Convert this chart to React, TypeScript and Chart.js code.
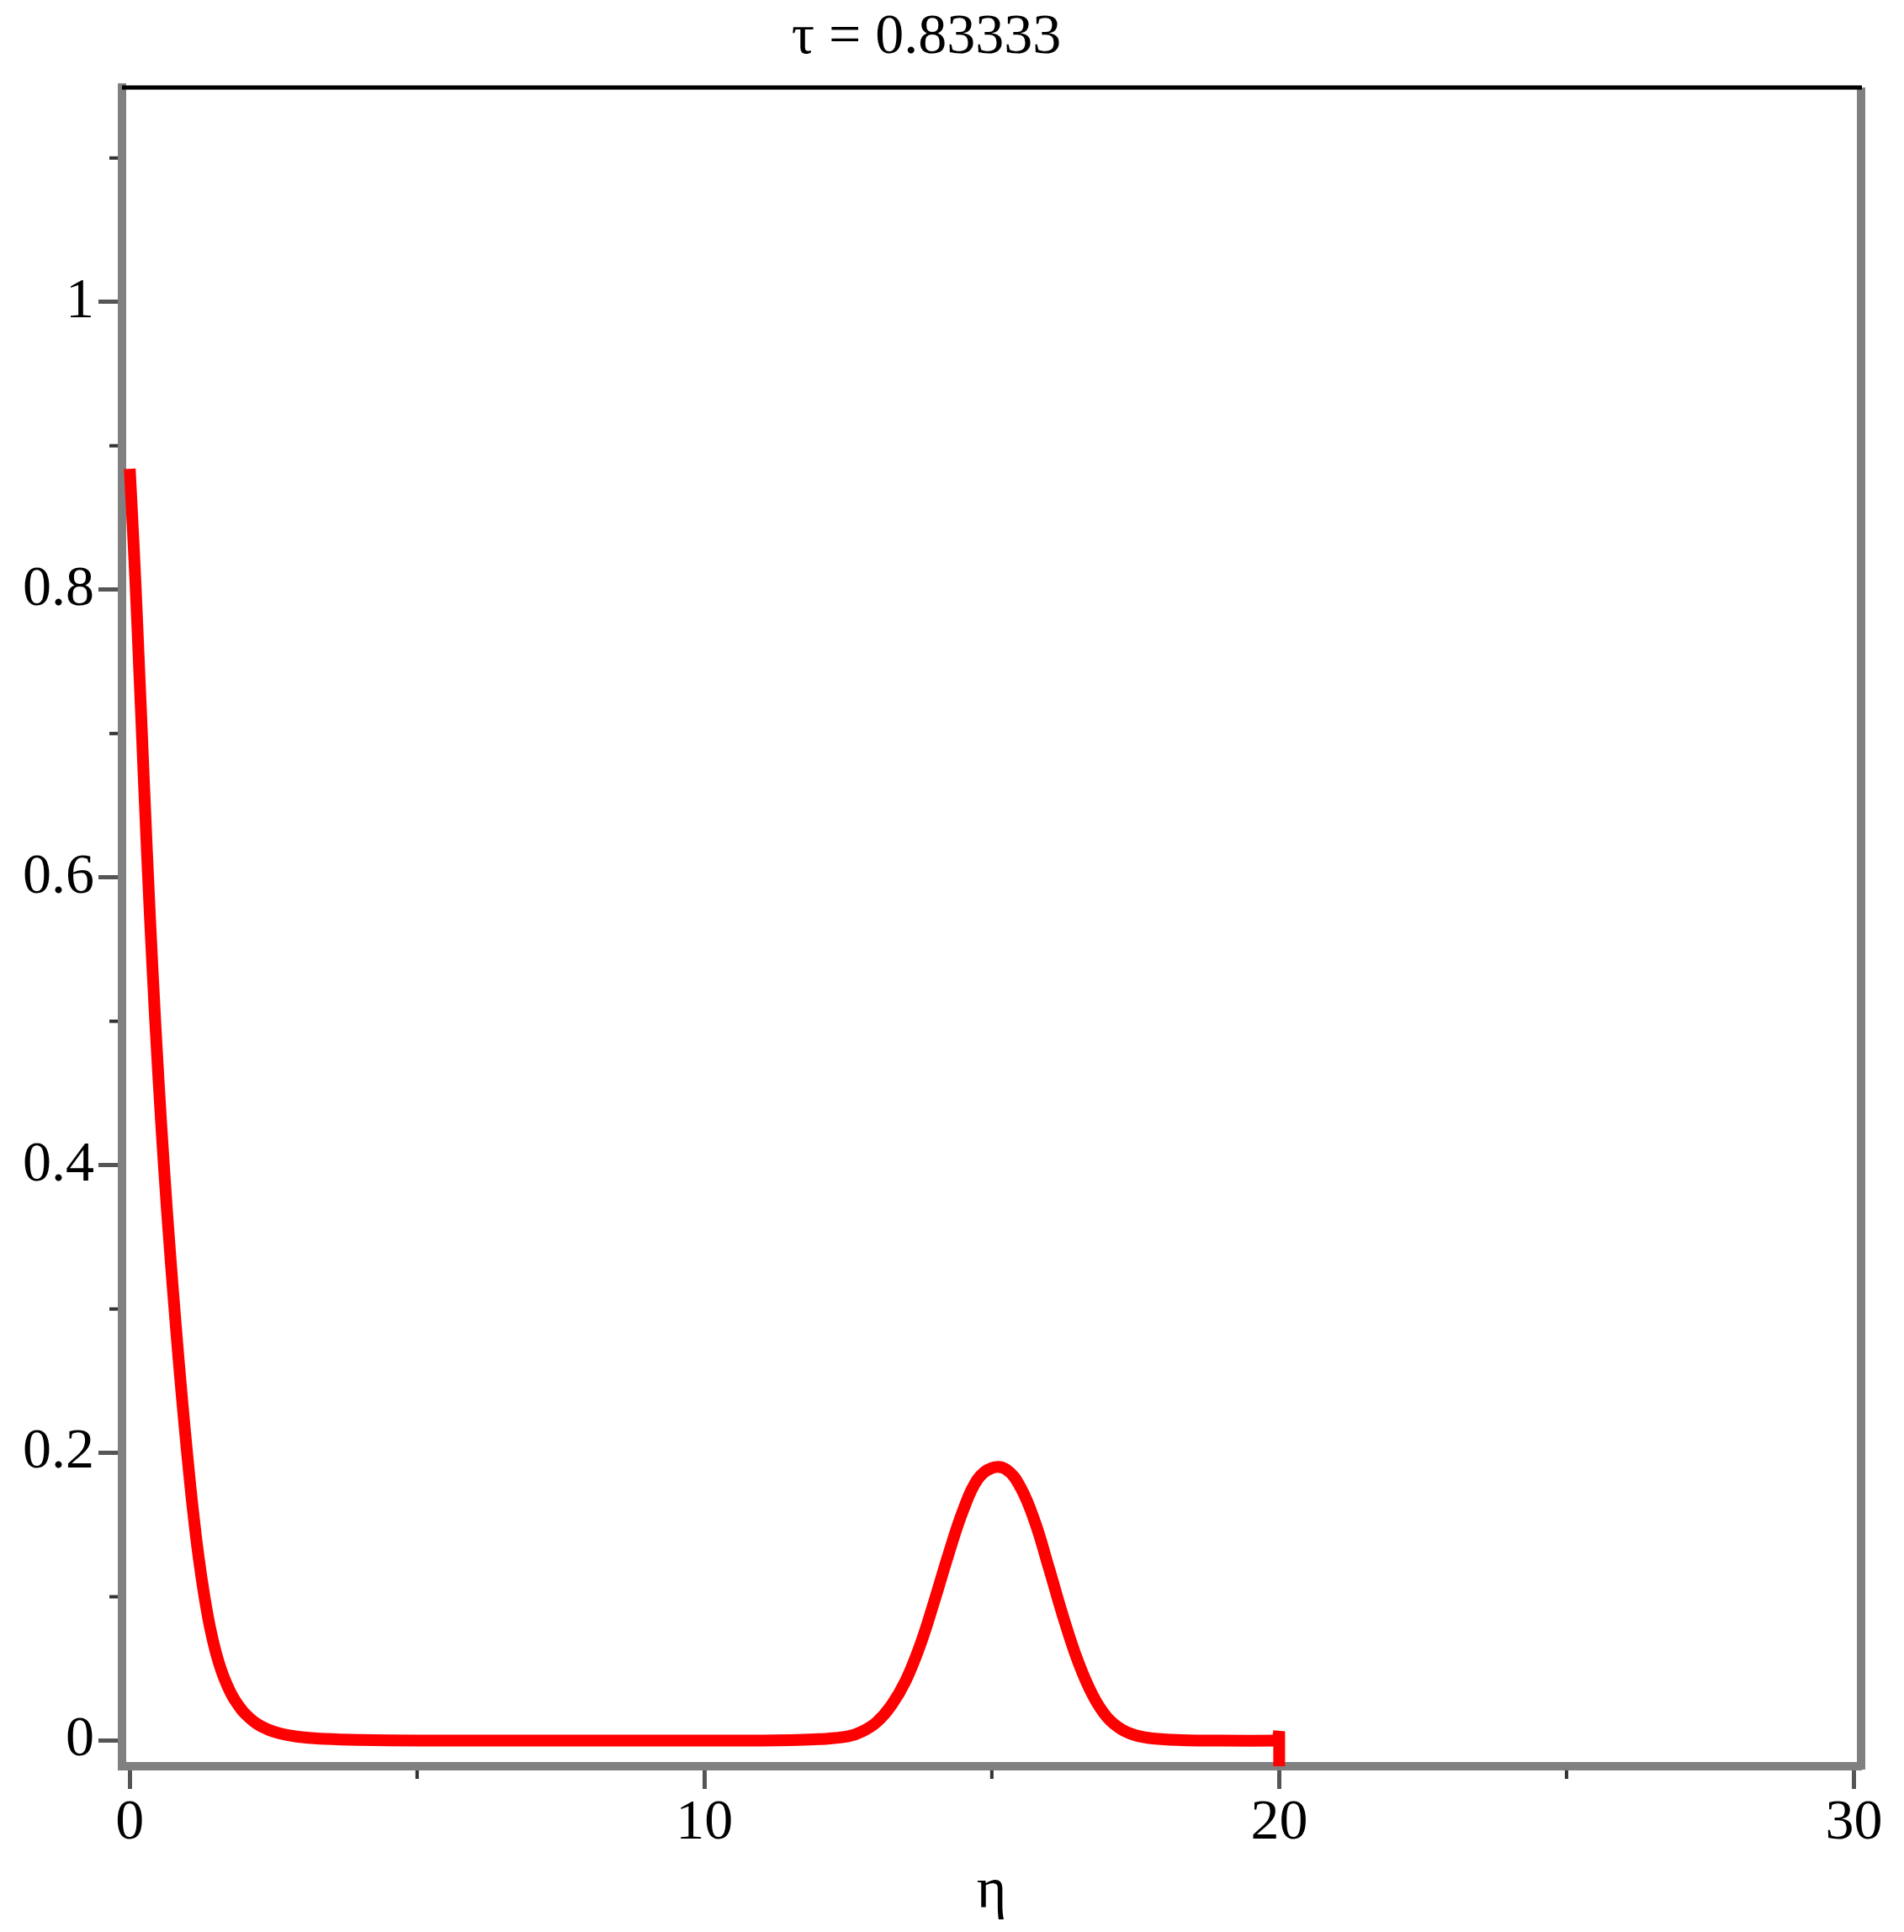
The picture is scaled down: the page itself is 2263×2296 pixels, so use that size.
import React, { useEffect, useRef } from 'react';
import { Chart, registerables } from 'chart.js';

Chart.register(...registerables);

const W = 2263;
const H = 2296;

const TITLE = 'τ = 0.83333';
const X_TITLE = 'η';

const ETA = [
  0, 0.05, 0.1, 0.15, 0.2, 0.3, 0.4, 0.5, 0.6, 0.7, 0.8, 0.9, 1.0, 1.1, 1.2, 1.3, 1.4, 1.5, 1.6, 1.7, 1.8, 1.9, 2.0,
  2.2, 2.4, 2.6, 2.8, 3.0, 3.4, 4.0, 5.0, 6, 8, 10, 11, 11.5, 12.0, 12.5, 12.75, 13.0, 13.25, 13.5, 13.75, 14.0, 14.25,
  14.5, 14.75, 15.0, 15.25, 15.5, 15.75, 16.0, 16.25, 16.5, 16.75, 17.0, 17.25, 17.5, 17.8, 18.3, 19, 19.97,
];
const U = [
  0.884, 0.845, 0.804, 0.758, 0.711, 0.617, 0.533, 0.46, 0.396, 0.34, 0.289, 0.242, 0.199, 0.16, 0.127, 0.1, 0.078,
  0.061, 0.048, 0.038, 0.03, 0.024, 0.019, 0.012, 0.0078, 0.0052, 0.0035, 0.0024, 0.0012, 0.0005, 0.0001, 0, 0, 0, 0,
  0.0003, 0.001, 0.003, 0.0065, 0.013, 0.0245, 0.0415, 0.066, 0.097, 0.13, 0.16, 0.1815, 0.1895, 0.1885, 0.176, 0.152,
  0.119, 0.085, 0.055, 0.032, 0.0165, 0.008, 0.0037, 0.0015, 0.0004, 0, 0,
];
// the short vertical stroke where the curve ends at η = 20
const SPIKE_ETA = [19.97, 20, 20];
const SPIKE_U = [0, 0.0065, -0.03];

const X_MIN = -0.135;
const X_MAX = 30.125;
const Y_MIN = -0.0178;
const Y_MAX = 1.149;

const X_MAJOR = [0, 10, 20, 30];
const X_LABELS = ['0', '10', '20', '30'];
const X_MINOR = [5, 15, 25];
const Y_MAJOR = [0, 0.2, 0.4, 0.6, 0.8, 1];
const Y_LABELS = ['0', '0.2', '0.4', '0.6', '0.8', '1'];
const Y_MINOR = [0.1, 0.3, 0.5, 0.7, 0.9, 1.1];

const FONT = 'Liberation Serif';
const FONT_SIZE = 68;
const AXIS_GRAY = '#808080';
const TICK_COLOR = '#555555';

const framePlugin = {
  id: 'frame',
  afterDraw(chart: any) {
    const { ctx, chartArea: a, scales } = chart;
    ctx.save();
    // right border (gray)
    ctx.strokeStyle = AXIS_GRAY;
    ctx.lineWidth = 10;
    ctx.beginPath();
    ctx.moveTo(a.right, a.top);
    ctx.lineTo(a.right, a.bottom + 4);
    ctx.stroke();
    // top border (black)
    ctx.strokeStyle = '#000';
    ctx.lineWidth = 5;
    ctx.beginPath();
    ctx.moveTo(a.left, a.top);
    ctx.lineTo(a.right + 1, a.top);
    ctx.stroke();
    // minor ticks
    ctx.strokeStyle = '#333';
    ctx.lineWidth = 4;
    Y_MINOR.forEach((v) => {
      const y = scales.y.getPixelForValue(v);
      ctx.beginPath();
      ctx.moveTo(a.left - 15, y);
      ctx.lineTo(a.left - 5, y);
      ctx.stroke();
    });
    X_MINOR.forEach((v) => {
      const x = scales.x.getPixelForValue(v);
      ctx.beginPath();
      ctx.moveTo(x, a.bottom + 5);
      ctx.lineTo(x, a.bottom + 15);
      ctx.stroke();
    });
    // title
    ctx.fillStyle = '#000';
    ctx.font = `${FONT_SIZE}px "${FONT}"`;
    ctx.textAlign = 'center';
    ctx.textBaseline = 'alphabetic';
    ctx.fillText(TITLE, 1101, 63);
    ctx.restore();
  },
};

export default function App() {
  const ref = useRef<HTMLCanvasElement | null>(null);

  useEffect(() => {
    const canvas = ref.current;
    if (!canvas) return;
    const data = ETA.map((x, i) => ({ x, y: U[i] }));
    const spike = SPIKE_ETA.map((x, i) => ({ x, y: SPIKE_U[i] }));
    const chart = new Chart(canvas, {
      type: 'line',
      data: {
        datasets: [
          {
            data,
            borderColor: '#ff0000',
            borderWidth: 14,
            pointRadius: 0,
            fill: false,
            tension: 0.4,
          },
          {
            data: spike,
            borderColor: '#ff0000',
            borderWidth: 14,
            pointRadius: 0,
            fill: false,
            tension: 0,
          },
        ],
      },
      options: {
        animation: false,
        responsive: false,
        devicePixelRatio: 1,
        events: [],
        layout: { padding: { top: 104, right: 51, left: 0, bottom: 0 } },
        plugins: {
          legend: { display: false },
          title: { display: false },
          tooltip: { enabled: false },
        },
        scales: {
          x: {
            type: 'linear',
            min: X_MIN,
            max: X_MAX,
            afterBuildTicks: (s: any) => {
              s.ticks = X_MAJOR.map((v) => ({ value: v }));
            },
            afterFit: (s: any) => {
              s.height = 197;
            },
            ticks: {
              callback: (_v: any, i: number) => X_LABELS[i],
              font: { family: FONT, size: FONT_SIZE },
              color: '#000',
              padding: 0,
              maxRotation: 0,
              autoSkip: false,
            },
            grid: { drawOnChartArea: false, tickLength: 27, tickWidth: 5, tickColor: TICK_COLOR },
            border: { color: AXIS_GRAY, width: 10 },
            title: {
              display: true,
              text: X_TITLE,
              font: { family: FONT, size: FONT_SIZE },
              color: '#000',
              padding: { top: 0, bottom: 6 },
            },
          },
          y: {
            type: 'linear',
            min: Y_MIN,
            max: Y_MAX,
            afterBuildTicks: (s: any) => {
              s.ticks = Y_MAJOR.map((v) => ({ value: v }));
            },
            afterFit: (s: any) => {
              s.width = 145;
            },
            ticks: {
              callback: (_v: any, i: number) => Y_LABELS[i],
              font: { family: FONT, size: FONT_SIZE },
              color: '#000',
              padding: 5,
              autoSkip: false,
            },
            grid: { drawOnChartArea: false, tickLength: 28, tickWidth: 5, tickColor: TICK_COLOR },
            border: { color: AXIS_GRAY, width: 10 },
          },
        },
      },
      plugins: [framePlugin],
    } as any);
    return () => chart.destroy();
  }, []);

  return (
    <div style={{ position: 'absolute', left: 0, top: 0, width: W, height: H, background: '#fff' }}>
      <canvas ref={ref} width={W} height={H} style={{ display: 'block' }} />
    </div>
  );
}
